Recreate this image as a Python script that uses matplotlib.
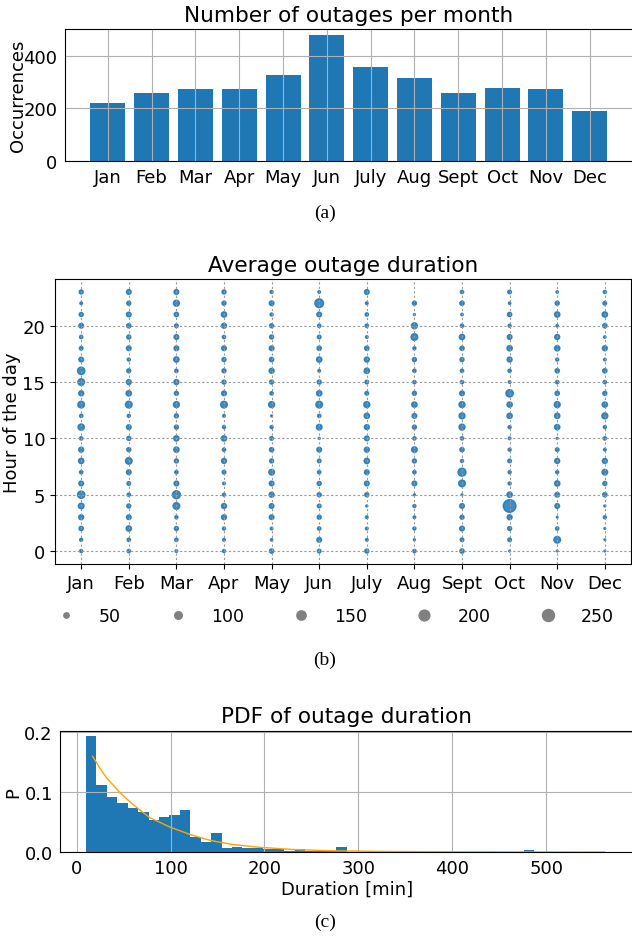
import numpy as np
import matplotlib
matplotlib.use('Agg')
import matplotlib.pyplot as plt
from matplotlib.lines import Line2D

# --- data -------------------------------------------------------------
months = ['Jan', 'Feb', 'Mar', 'Apr', 'May', 'Jun',
          'July', 'Aug', 'Sept', 'Oct', 'Nov', 'Dec']
outages = [220, 257, 273, 273, 326, 478, 357, 315, 257, 277, 273, 190]

hours = list(range(24))
# average outage duration [min] per hour of the day (0..23), one list per month
jan = [16, 16, 32, 43, 55, 93, 38, 19, 49, 43, 19, 69, 19, 77, 43, 77, 93, 38, 23, 19, 38, 28, 12, 28]
feb = [19, 19, 49, 38, 28, 19, 23, 38, 77, 28, 28, 38, 16, 77, 49, 43, 28, 16, 38, 28, 32, 38, 28, 38]
mar = [12, 19, 28, 16, 77, 110, 38, 19, 28, 49, 49, 28, 28, 62, 28, 43, 19, 49, 38, 38, 23, 32, 62, 38]
apr = [16, 12, 16, 43, 43, 16, 12, 23, 43, 19, 49, 16, 12, 77, 38, 28, 28, 28, 38, 19, 43, 49, 28, 28]
may = [32, 10, 12, 38, 38, 43, 38, 55, 28, 32, 23, 16, 6, 62, 19, 28, 43, 32, 38, 28, 28, 16, 38, 16]
jun = [23, 38, 19, 28, 23, 28, 28, 19, 23, 38, 7, 55, 19, 77, 49, 28, 12, 49, 32, 23, 19, 38, 130, 12]
jul = [28, 12, 12, 12, 7, 28, 38, 38, 49, 43, 38, 43, 49, 62, 23, 23, 49, 43, 32, 12, 19, 19, 12, 38]
aug = [19, 7, 16, 12, 16, 6, 38, 19, 28, 55, 19, 28, 38, 49, 28, 19, 19, 28, 16, 77, 62, 6, 28, 0]
sep = [32, 23, 38, 28, 38, 5, 77, 110, 16, 32, 19, 62, 62, 62, 38, 19, 19, 28, 32, 49, 19, 10, 32, 19]
octo = [6, 23, 28, 43, 276, 49, 16, 16, 23, 16, 12, 16, 49, 49, 93, 12, 19, 43, 49, 38, 16, 32, 10, 23]
nov = [5, 77, 19, 5, 38, 38, 49, 16, 43, 23, 6, 49, 49, 62, 32, 19, 32, 16, 49, 43, 10, 49, 28, 10]
dec = [5, 5, 6, 16, 7, 32, 28, 55, 43, 12, 19, 16, 62, 49, 28, 19, 32, 12, 43, 10, 32, 49, 23, 16]
legend_sizes = [50, 100, 150, 200, 250]

# PDF of outage duration: 50 bins between 10 and 565 min
bin_lo, bin_hi, n_bins = 10, 565, 50
pdf_p = [0.192, 0.112, 0.091, 0.081, 0.073, 0.066, 0.053, 0.058, 0.061, 0.069,
         0.025, 0.017, 0.031, 0.0065, 0.009, 0.007, 0.007, 0.0055, 0.0055, 0.002,
         0.0045, 0.001, 0.002, 0.002, 0.009, 0, 0, 0, 0, 0,
         0, 0, 0, 0, 0, 0, 0, 0, 0, 0,
         0, 0, 0.0035, 0, 0, 0, 0, 0, 0, 0]
fit_x = [17, 25, 32, 46, 57, 68, 78, 89, 100, 121, 143, 166, 195, 230, 270, 320, 400, 480, 562]
fit_y = [0.159, 0.139, 0.123, 0.099, 0.083, 0.069, 0.057, 0.049, 0.041, 0.029, 0.019,
         0.0125, 0.0078, 0.0042, 0.0021, 0.001, 0.0003, 0.0001, 0.0]

plt.rcParams['font.size'] = 13

fig = plt.figure(figsize=(6.32, 9.37), dpi=100)
W, H = 632.0, 937.0

def box(l, t, r, b):
    return [l / W, 1 - b / H, (r - l) / W, (b - t) / H]

# (a) outages per month
x = np.arange(1, 13)
ax1 = fig.add_axes(box(64.5, 30, 633, 162))
ax1.bar(x, outages, width=0.8, color='#1f77b4')
ax1.set_xlim(0.01, 12.99)
ax1.set_xticks(x)
ax1.set_xticklabels(months)
ax1.set_yticks([0, 200, 400])
ax1.tick_params(length=0, pad=5)
ax1.grid(color='#b0b0b0', lw=0.8)
ax1.set_ylabel('Occurrences')
ax1.yaxis.set_label_coords(-0.066, 0.5)
ax1.set_title('Number of outages per month', fontsize=15.6)

# (b) average duration by month / hour
dur = np.array([jan, feb, mar, apr, may, jun, jul, aug, sep, octo, nov, dec], dtype=float)
mm, hh = np.meshgrid(x, hours, indexing='ij')
k = 0.3
ax2 = fig.add_axes(box(55, 280, 631, 565))
ax2.scatter(mm.ravel(), hh.ravel(), s=dur.ravel() * k, color='#1f77b4',
            alpha=0.85, edgecolors='face', linewidths=1.0)
ax2.set_xticks(x)
ax2.set_xticklabels(months)
ax2.set_yticks([0, 5, 10, 15, 20])
ax2.grid(color='#999999', ls=(0, (2, 2)), lw=0.8)
ax2.set_ylabel('Hour of the day')
ax2.yaxis.set_label_coords(-0.059, 0.5)
ax2.set_title('Average outage duration', fontsize=15.6)
handles = [Line2D([], [], ls='', marker='o', color='#808080', mew=1.0,
                  ms=np.sqrt(v * k)) for v in legend_sizes]
fig.legend(handles, [str(v) for v in legend_sizes], loc='center',
           bbox_to_anchor=(331 / W, 1 - 617 / H), ncol=5, frameon=False,
           fontsize=12.5, handletextpad=0.9, columnspacing=2.3)

# (c) PDF of duration
edges = np.linspace(bin_lo, bin_hi, n_bins + 1)
centers = (edges[:-1] + edges[1:]) / 2
ax3 = fig.add_axes(box(59.7, 731.7, 633.7, 853))
ax3.hist(centers, bins=edges, weights=pdf_p, color='#1f77b4')
ax3.plot(fit_x, fit_y, color='orange', lw=1)
ax3.set_xlim(-18, 593)
ax3.set_yticks([0, 0.1, 0.2])
ax3.tick_params(length=0, pad=5)
ax3.grid(color='#b0b0b0', lw=0.8)
ax3.set_xlabel('Duration [min]', labelpad=2)
ax3.set_ylabel('P')
ax3.yaxis.set_label_coords(-0.066, 0.5)
ax3.set_title('PDF of outage duration', fontsize=15.6)

for lab, yy in [('(a)', 213), ('(b)', 660), ('(c)', 922)]:
    fig.text(325 / W, 1 - yy / H, lab, family='Liberation Serif', fontsize=14,
             ha='center', va='center')

fig.savefig('out.png', dpi=100)
